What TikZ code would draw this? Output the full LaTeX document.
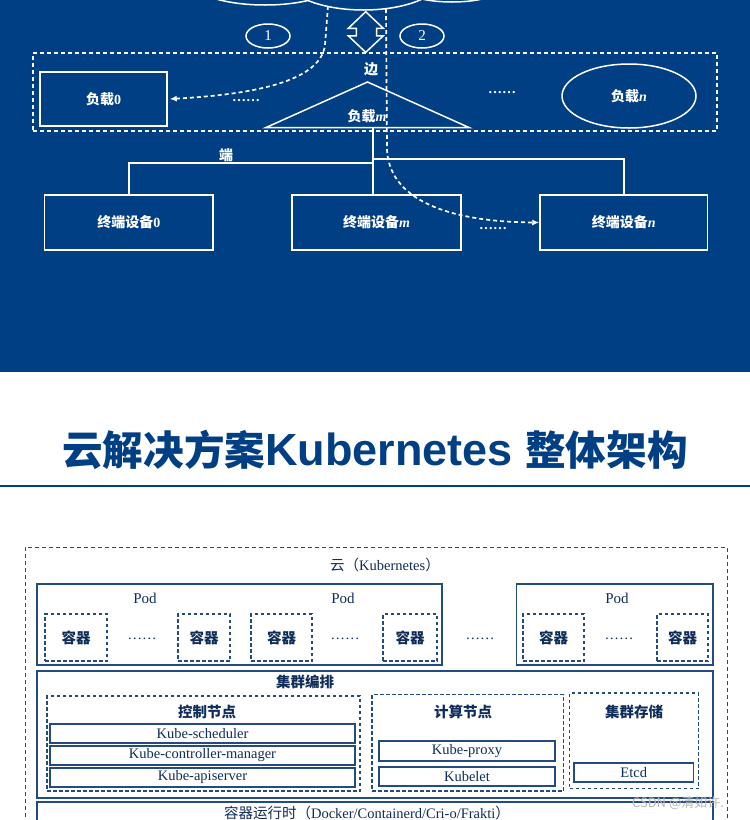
\documentclass[tikz,border=0pt]{standalone}
\usepackage{fontspec}
\setmainfont{Liberation Serif}
\newfontfamily\cjk{Noto Sans CJK SC}
\newfontfamily\lsans{Liberation Sans}
\usetikzlibrary{arrows.meta,shapes.geometric}
\definecolor{bgblue}{RGB}{0,63,132}
\definecolor{navy}{RGB}{15,45,90}
\definecolor{kline}{RGB}{35,75,130}
\newcommand\cjktext[1]{{\cjk #1}}
\newcommand\wsize{\fontsize{14}{16}\selectfont}
\newcommand\ksize{\fontsize{14.5}{16}\selectfont}
\begin{document}
\begin{tikzpicture}[x=1pt,y=-1pt,
  wline/.style={draw=white, line width=1.5pt},
  wdash/.style={draw=white, line width=1.7pt, dash pattern=on 4pt off 3pt},
  wbox/.style={wline, rectangle, inner sep=0pt, text=white, font=\wsize\bfseries},
  wtext/.style={text=white, inner sep=0pt, font=\wsize\bfseries},
  wcirc/.style={wline, ellipse, inner sep=0pt, minimum width=44pt, minimum height=24pt, text=white, font=\fontsize{15}{17}\selectfont},
  kbox/.style={draw=kline, line width=1.5pt, rectangle, inner sep=0pt, text=navy, font=\ksize},
  kdash/.style={draw=kline, line width=1.4pt, dash pattern=on 3.5pt off 2.5pt, rectangle, inner sep=0pt, text=navy, font=\ksize\bfseries},
  kouter/.style={draw=kline, line width=1pt, dash pattern=on 4pt off 3pt, rectangle, inner sep=0pt},
  ktext/.style={text=navy, inner sep=0pt, font=\ksize},
  kbold/.style={text=navy, inner sep=0pt, font=\ksize\bfseries},
  tip/.style={-{Latex[length=7pt,width=6pt]}}
]
\useasboundingbox (0,0) rectangle (750,820);
\clip (0,0) rectangle (750,820);
\fill[white] (0,0) rectangle (750,820);
\fill[bgblue] (0,0) rectangle (750,371.5);

% clouds
\draw[wline, fill=bgblue] (265,-20) ellipse [x radius=75pt, y radius=25pt];
\draw[wline, fill=bgblue] (452,-14) ellipse [x radius=52pt, y radius=16pt];
\draw[wline, fill=bgblue] (363.5,-22) ellipse [x radius=78pt, y radius=32pt];

% edge layer
\node[wdash, rectangle, inner sep=0pt, minimum width=684pt, minimum height=78pt] (edge) at (375,92) {};
\node[wtext] (bian) at (371,69) {\cjktext{边}};
\node[wbox, minimum width=127pt, minimum height=54pt] (w0) at (103.5,99) {\cjktext{负载}0};
\draw[wline] (367.5,82) -- (469,127.5) -- (266,127.5) -- cycle;
\node[wtext] (wlm) at (367,116) {\cjktext{负载}\textit{m}};
\node[wline, ellipse, inner sep=0pt, minimum width=134pt, minimum height=64pt, text=white, font=\wsize\bfseries] (wn) at (629,96) {\cjktext{负载}\textit{n}};
\node[wtext] (d1) at (246,101) {……};
\node[wtext] (d2) at (502,93) {……};

% circles and double arrow
\node[wcirc] (n1) at (268,36) {1};
\node[wcirc] (n2) at (422,36) {2};
\draw[wline, line join=miter] (365.7,11.7) -- (383.3,28.3) -- (376.5,28.3) -- (376.5,35.8) -- (383.3,35.8) -- (365.7,52.3) -- (348.3,35.8) -- (356.3,35.8) -- (356.3,28.3) -- (348.3,28.3) -- cycle;

% devices
\node[wbox, minimum width=168.5pt, minimum height=55pt] (t0) at (128.75,222.5) {\cjktext{终端设备}0};
\node[wbox, minimum width=169pt, minimum height=55pt] (tm) at (376.5,222.5) {\cjktext{终端设备}\textit{m}};
\node[wbox, minimum width=167.5pt, minimum height=55pt] (tn) at (623.75,222.5) {\cjktext{终端设备}\textit{n}};
\node[wtext] (d3) at (493,229) {……};
\node[wtext] (duan) at (226,155) {\cjktext{端}};

% tree
\coordinate (j) at (373,127.5);
\coordinate (jl) at (373,163);
\coordinate (jr) at (373,159);
\draw[wline] (j) -- (j |- tm.north);
\draw[wline] (jl) -| (t0.north);
\draw[wline] (jr) -| (tn.north);

% dashed flows
\coordinate (c1s) at (328,6);
\coordinate (c1m) at (325,45);
\draw[wdash, tip] (c1s) -- (c1m) .. controls (320,85) and (240,95) .. ([xshift=2pt]w0.east);
\coordinate (c2s) at (386,9);
\coordinate (c2m) at (387,150);
\draw[wdash, tip] (c2s) -- (c2m) .. controls (390,205) and (460,222) .. (tn.west);

% title
\node[text=bgblue, inner sep=0pt] (title) at (375,450) {\fontsize{40.6}{44}\selectfont\cjk\bfseries 云解决方案{\lsans\bfseries\fontsize{45}{48}\selectfont Kubernetes\ }整体架构};
\coordinate (tl1) at (0,486);
\coordinate (tl2) at (750,486);
\draw[bgblue, line width=2.5pt] (tl1) -- (tl2);

% kubernetes diagram
\node[kouter, minimum width=702pt, minimum height=353pt] (k8s) at (376,723.5) {};
\node[ktext] (k8slab) at (385,565) {\cjktext{云（}Kubernetes\cjktext{）}};

\node[kbox, minimum width=405pt, minimum height=81pt] (pod1) at (239.5,624.5) {};
\node[kbox, minimum width=196.5pt, minimum height=81pt] (pod2) at (614.75,624.5) {};
\node[ktext, font=\fontsize{15}{17}\selectfont] (pl1) at (145,598) {Pod};
\node[ktext, font=\fontsize{15}{17}\selectfont] (pl2) at (343,598) {Pod};
\node[ktext, font=\fontsize{15}{17}\selectfont] (pl3) at (617,598) {Pod};

\node[kdash, minimum width=62pt, minimum height=47pt] (c1) at (76,637.5) {\cjktext{容器}};
\node[kdash, minimum width=52pt, minimum height=47pt] (c2) at (204,637.5) {\cjktext{容器}};
\node[kdash, minimum width=61pt, minimum height=47pt] (c3) at (281.5,637.5) {\cjktext{容器}};
\node[kdash, minimum width=54pt, minimum height=47pt] (c4) at (410,637.5) {\cjktext{容器}};
\node[kdash, minimum width=61pt, minimum height=47pt] (c5) at (553.5,637.5) {\cjktext{容器}};
\node[kdash, minimum width=51pt, minimum height=47pt] (c6) at (682.5,637.5) {\cjktext{容器}};
\node[ktext] (e1) at (142,639) {……};
\node[ktext] (e2) at (345,639) {……};
\node[ktext] (e3) at (480,639) {……};
\node[ktext] (e4) at (619,639) {……};

\node[kbox, minimum width=676pt, minimum height=127pt] (orch) at (375,734.5) {};
\node[kbold] (orchlab) at (305,682) {\cjktext{集群编排}};

\node[kdash, minimum width=313pt, minimum height=95pt] (ctrl) at (203.5,743.5) {};
\node[kbold] (ctrllab) at (207,712) {\cjktext{控制节点}};
\node[kbox, minimum width=305pt, minimum height=19pt] (ks) at (202.5,733.5) {Kube-scheduler};
\node[kbox, minimum width=305pt, minimum height=19pt] (kcm) at (202.5,755.5) {Kube-controller-manager};
\node[kbox, minimum width=305pt, minimum height=19pt] (ka) at (202.5,777.5) {Kube-apiserver};

\node[kdash, minimum width=191.5pt, minimum height=96.5pt] (comp) at (467.75,742.75) {};
\node[kbold] (complab) at (463,712) {\cjktext{计算节点}};
\node[kbox, minimum width=176pt, minimum height=20pt] (kp) at (467,751) {Kube-proxy};
\node[kbox, minimum width=176pt, minimum height=19pt] (kl) at (467,776.5) {Kubelet};

\node[kdash, minimum width=129pt, minimum height=95.5pt] (store) at (634,740.75) {};
\node[kbold] (storelab) at (634,712) {\cjktext{集群存储}};
\node[kbox, minimum width=119.5pt, minimum height=19pt] (etcd) at (633.75,772.5) {Etcd};

\node[kbox, minimum width=676pt, minimum height=50pt] (rt) at (375,827) {};
\node[ktext] (rtlab) at (367,812.5) {\cjktext{容器运行时（}Docker/Containerd/Cri-o/Frakti\cjktext{）}};

\node[text=gray!55, inner sep=0pt, font=\cjk\fontsize{13}{15}\selectfont] (wmark) at (678,803) {CSDN @清如许.};
\end{tikzpicture}
\end{document}
